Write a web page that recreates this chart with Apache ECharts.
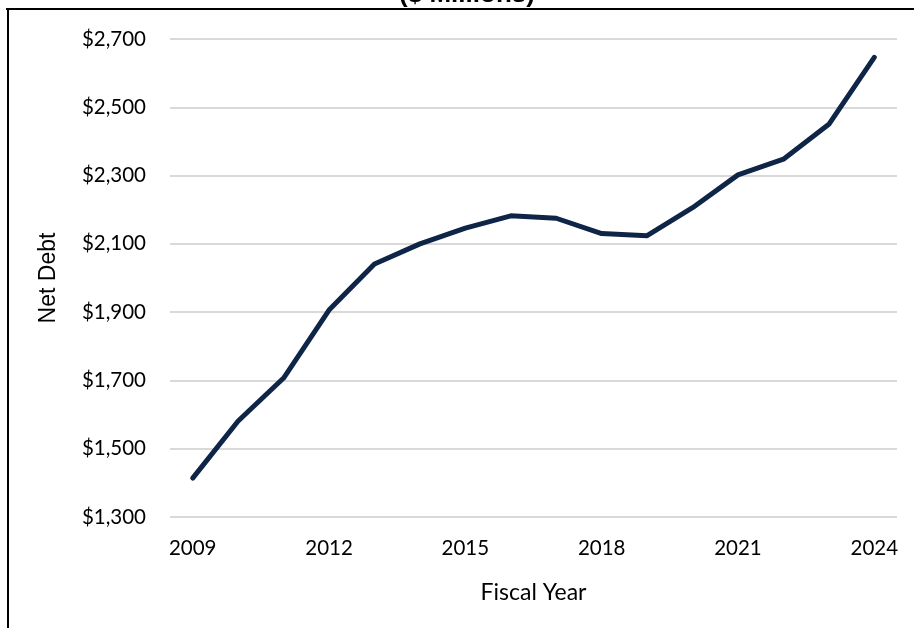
<!DOCTYPE html>
<html>
<head>
<meta charset="utf-8">
<style>
  html, body { margin: 0; padding: 0; background: #fff; }
  #chart { width: 914px; height: 628px; }
</style>
<script src="https://cdn.jsdelivr.net/npm/echarts@6/dist/echarts.min.js"></script>
</head>
<body>
<div id="chart"></div>
<script>
// Fiscal years and net debt ($ millions)
const years = ['2009','2010','2011','2012','2013','2014','2015','2016','2017','2018','2019','2020','2021','2022','2023','2024'];
const netDebt = [1414, 1581, 1707, 1906, 2041, 2100, 2146, 2182, 2175, 2130, 2124, 2206, 2302, 2348, 2450, 2646];
const yTicks = { min: 1300, max: 2700, step: 200 };

const chart = echarts.init(document.getElementById('chart'), null, { renderer: 'canvas' });

const tickFont = "Lato, 'Open Sans', sans-serif";

chart.setOption({
  animation: false,
  backgroundColor: '#ffffff',
  grid: { left: 170, right: 17, top: 39, bottom: 111, containLabel: false },
  xAxis: {
    type: 'category',
    data: years,
    boundaryGap: true,
    axisLine: { show: false },
    axisTick: { show: false },
    axisLabel: {
      interval: 2,
      color: '#000',
      fontFamily: tickFont,
      fontSize: 20.5,
      margin: 21
    },
    name: 'Fiscal Year',
    nameLocation: 'middle',
    nameGap: 64,
    nameTextStyle: { color: '#000', fontFamily: tickFont, fontSize: 23 }
  },
  yAxis: {
    type: 'value',
    min: yTicks.min,
    max: yTicks.max,
    interval: yTicks.step,
    axisLine: { show: false },
    axisTick: { show: false },
    splitLine: { lineStyle: { color: '#d9d9d9', width: 2 } },
    axisLabel: {
      color: '#000',
      fontFamily: tickFont,
      fontSize: 20.5,
      margin: 24,
      formatter: v => '$' + v.toLocaleString('en-US')
    },
    name: 'Net Debt',
    nameLocation: 'middle',
    nameGap: 110,
    nameRotate: 90,
    nameTextStyle: { color: '#000', fontFamily: "'Liberation Sans', Arial, sans-serif", fontSize: 23 }
  },
  series: [{
    type: 'line',
    data: netDebt,
    showSymbol: false,
    lineStyle: { color: '#0f2547', width: 5, cap: 'round', join: 'round' }
  }],
  graphic: [
    {
      type: 'text',
      x: 467,
      y: -18,
      style: {
        text: '($ Millions)',
        fill: '#000',
        align: 'center',
        verticalAlign: 'top',
        font: "bold 26px 'Liberation Sans', Arial, sans-serif"
      }
    },
    {
      type: 'line',
      shape: { x1: 6, y1: 9, x2: 914, y2: 9 },
      style: { stroke: '#000', lineWidth: 2 }
    },
    {
      type: 'line',
      shape: { x1: 8, y1: 9, x2: 8, y2: 628 },
      style: { stroke: '#000', lineWidth: 2 }
    }
  ]
});
</script>
</body>
</html>
